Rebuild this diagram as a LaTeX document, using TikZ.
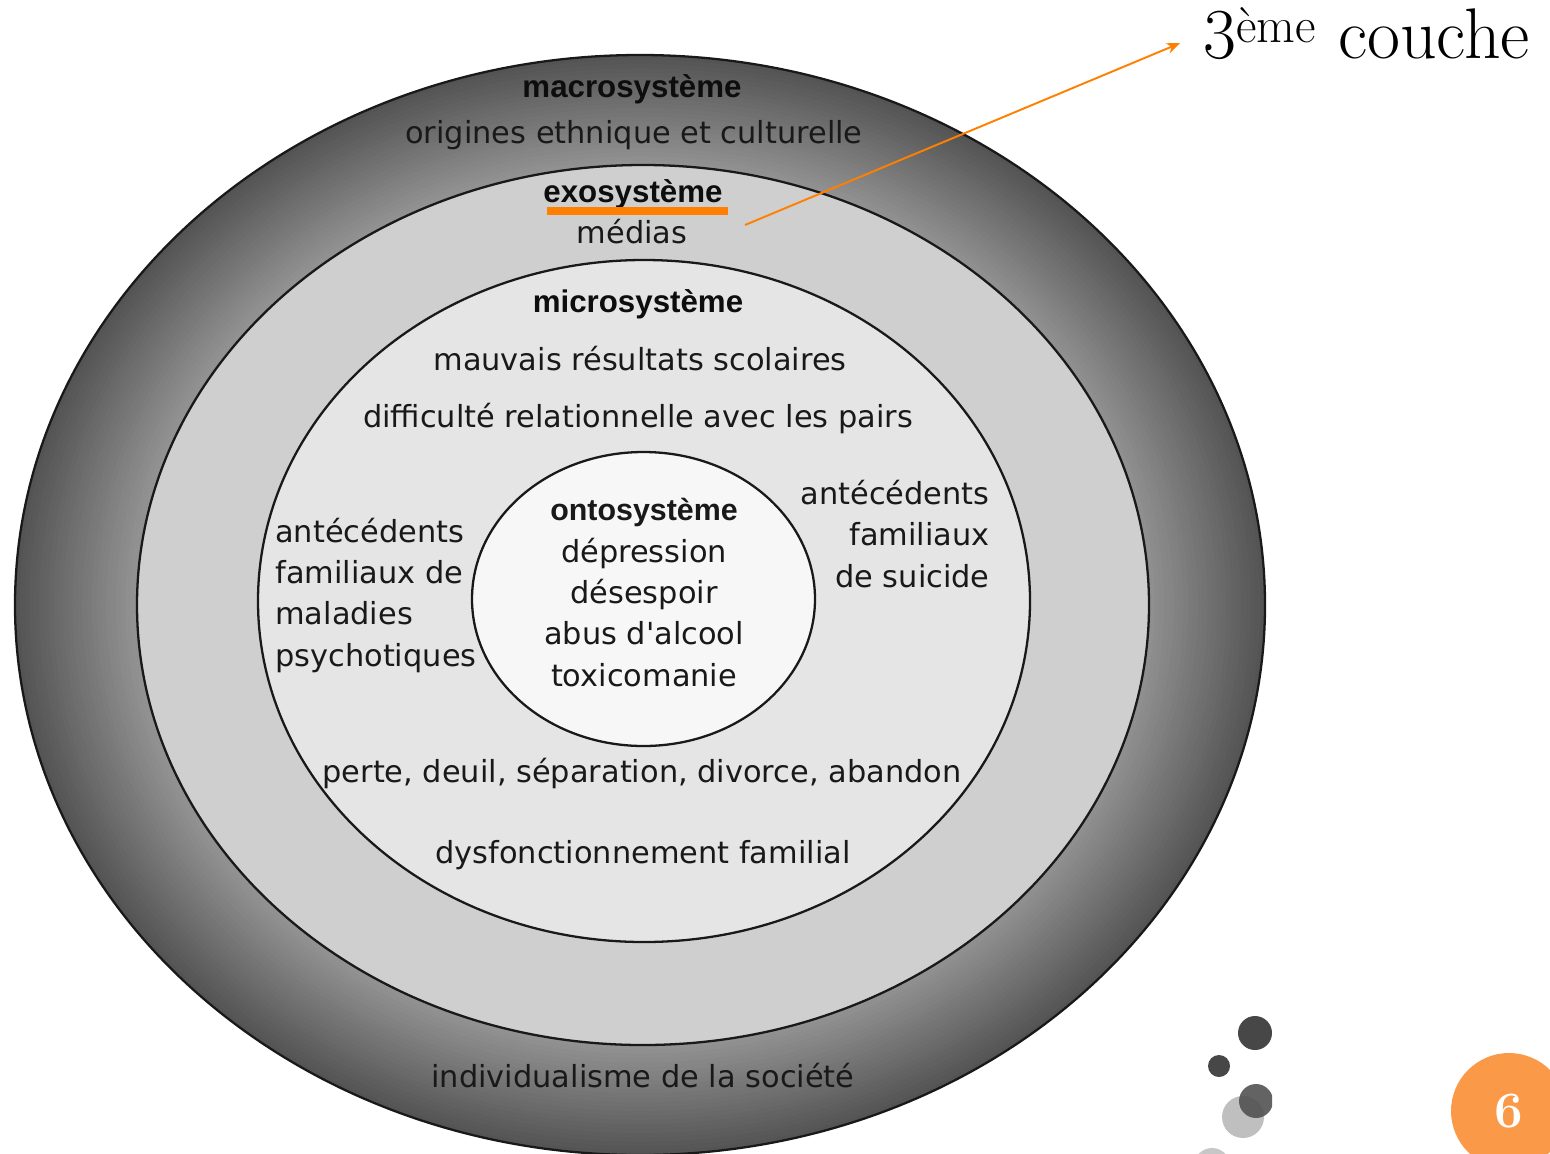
\documentclass[tikz,border=0pt]{standalone}
\usepackage{fontspec}
\usetikzlibrary{arrows.meta,calc}
\newfontfamily\labfont{DejaVu Sans}
\newfontfamily\headfont{Liberation Sans}
\definecolor{hilite}{HTML}{FF8000}
\definecolor{badge}{HTML}{FA9A48}
\tikzset{
  ring/.style={draw=black!90, line width=1.3pt},
  lab/.style={font=\labfont\fontsize{17.3}{23.5}\selectfont, text=black!90, inner sep=0pt},
  head/.style={font=\headfont\bfseries\fontsize{17.8}{23.5}\selectfont, text=black!95, inner sep=0pt}
}

\begin{document}
\begin{tikzpicture}[x=0.02cm, y=-0.02cm, >={Stealth[length=0.27cm,width=0.22cm]}]
    \useasboundingbox (0,0) rectangle (1550,1153);
    \clip (0,0) rectangle (1550,1153);
    % macro ring, darker towards its rim
    \foreach \t in {0,1,...,24} {
      \pgfmathsetmacro\rx{625-4.8*\t}
      \pgfmathsetmacro\ry{550-4.4*\t}
      \pgfmathtruncatemacro\tone{67-1.0*\t}
      \fill[black!\tone] (640,605) ellipse [x radius=\rx, y radius=\ry];
    }
    \draw[ring] (640,605) ellipse [x radius=625, y radius=550];
    % inner rings
    \filldraw[ring, fill=black!19] (643,605) ellipse [x radius=506, y radius=440];
    \filldraw[ring, fill=black!10] (644,601) ellipse [x radius=386, y radius=341];
    \filldraw[ring, fill=black!3] (643.5,599) ellipse [x radius=171.5, y radius=147];

    % macrosysteme
    \node[head, anchor=base] (macro) at (632,97) {macrosystème};
    \node[lab, anchor=base] (origines) at (634,143) {origines ethnique et culturelle};
    \node[lab, anchor=base] (individu) at (643,1087) {individualisme de la société};
    % exosysteme
    \node[head, anchor=base] (exo) at (633,202) {exosystème};
    \node[lab, anchor=base] (medias) at (632,243) {médias};
    % microsysteme
    \node[head, anchor=base] (micro) at (638,312) {microsystème};
    \node[lab, anchor=base] (scolaire) at (640,370) {mauvais résultats scolaires};
    \node[lab, anchor=base] (pairs) at (638,427) {difficulté relationnelle avec les pairs};
    \node[lab, anchor=base west, align=left] (psycho) at (275,666) {antécédents\\familiaux de\\maladies\\psychotiques};
    \node[lab, anchor=base east, align=right] (suicide) at (990,587) {antécédents\\familiaux\\de suicide};
    \node[lab, anchor=base] (perte) at (642,782) {perte, deuil, séparation, divorce, abandon};
    \node[lab, anchor=base] (dysf) at (643,863) {dysfonctionnement familial};
    % ontosysteme
    \node[lab, anchor=base, align=center] (onto) at (644,686) {{\headfont\bfseries ontosystème}\\dépression\\désespoir\\abus d'alcool\\toxicomanie};

    % orange marks
    \draw[hilite, line width=4pt] (547,211) -- (728,211);
    \node[anchor=base west, inner sep=0pt, font=\fontsize{40.8}{42}\selectfont] (couche) at (1203,58) {3\textsuperscript{ème} couche};
    \coordinate (pied) at (745,225);
    \draw[hilite, line width=1.1pt, ->] (pied) -- ([xshift=-0.46cm, yshift=-0.2cm]couche.west);

    % dots at the bottom
    \begin{scope}
      \clip (1150,1000) rectangle (1272,1153);
      \fill[black!25] (1243,1117) circle (21);
      \fill[black!22] (1212,1166) circle (18);
      \fill[black!72] (1255,1033) circle (17);
      \fill[black!72] (1219,1066) circle (11);
      \fill[black!68, opacity=0.9] (1256,1101) circle (17);
    \end{scope}
    \node[circle, fill=badge, minimum size=2.32cm, inner sep=0pt, text=white, font=\bfseries\fontsize{29}{29}\selectfont] (page) at (1509,1111) {6};
\end{tikzpicture}
\end{document}
